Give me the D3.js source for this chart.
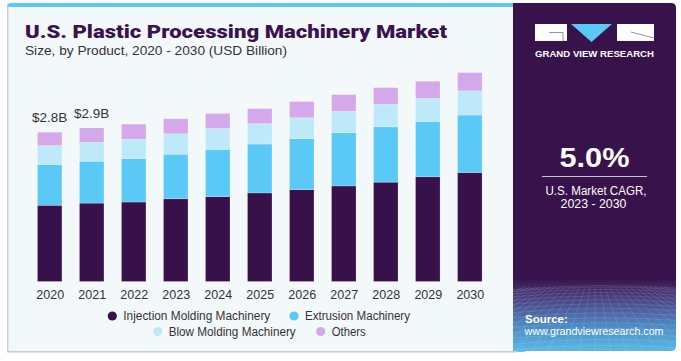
<!DOCTYPE html>
<html><head><meta charset="utf-8">
<script src="https://cdn.jsdelivr.net/npm/d3@7"></script>
<style>html,body{margin:0;padding:0;background:#fff}svg{display:block}</style>
</head><body>
<svg id="c" width="681" height="361"></svg>
<script>
const years = ["2020","2021","2022","2023","2024","2025","2026","2027","2028","2029","2030"];
const injection = [1.42,1.46,1.48,1.54,1.58,1.65,1.71,1.78,1.85,1.95,2.03];
const extrusion = [0.76,0.78,0.81,0.83,0.88,0.91,0.95,0.99,1.03,1.03,1.07];
const blow      = [0.35,0.35,0.36,0.38,0.39,0.38,0.39,0.40,0.42,0.43,0.45];
const others    = [0.25,0.27,0.28,0.28,0.28,0.28,0.30,0.31,0.31,0.32,0.34];
const seriesNames = ["Injection Molding Machinery","Extrusion Machinery","Blow Molding Machinery","Others"];
const seriesColors = ["#38114a","#5bc9f5","#bde9f9","#d4a8eb"];
const valueLabels = [{year:"2020",text:"$2.8B"},{year:"2021",text:"$2.9B"}];

const svg = d3.select("#c");
const font = "'Liberation Sans', Arial, sans-serif";

// card
svg.append("rect").attr("x",7).attr("y",3).attr("width",520).attr("height",349).attr("rx",4).attr("fill","#5bc9f5");
svg.append("rect").attr("x",7).attr("y",7).attr("width",510).attr("height",345).attr("fill","#f3f8fb");
svg.append("rect").attr("x",7).attr("y",7).attr("width",1.5).attr("height",345).attr("fill","#cfd3d6");
svg.append("rect").attr("x",7).attr("y",351).attr("width",510).attr("height",1.5).attr("fill","#c9cccf");

// right panel
const defs = svg.append("defs");
const g1 = defs.append("linearGradient").attr("id","pg").attr("x1",0).attr("y1",0).attr("x2",0).attr("y2",1);
g1.append("stop").attr("offset","0").attr("stop-color","#38124a");
g1.append("stop").attr("offset","0.79").attr("stop-color","#38124a");
g1.append("stop").attr("offset","0.86").attr("stop-color","#4a4a8a");
g1.append("stop").attr("offset","0.93").attr("stop-color","#4d8cc6");
g1.append("stop").attr("offset","1").attr("stop-color","#5ab8e6");
const clip = defs.append("clipPath").attr("id","pc");
clip.append("path").attr("d","M513,3 H671 Q676,3 676,8 V346 Q676,351 671,351 H513 Z");
svg.append("path").attr("d","M513,3 H671 Q676,3 676,8 V346 Q676,351 671,351 H513 Z").attr("fill","url(#pg)");
const grid = svg.append("g").attr("clip-path","url(#pc)").attr("stroke","#ffffff").attr("stroke-opacity",0.2).attr("stroke-width",0.6).attr("fill","none");
d3.range(0,16).forEach(i=>{
  const yy = 287 + Math.pow(i/15,1.4)*66;
  grid.append("path").attr("d",`M513,${yy+3} Q595,${yy-5} 676,${yy+1}`);
});
d3.range(-14,15).forEach(i=>{
  grid.append("line").attr("x1",595+i*5).attr("y1",287).attr("x2",595+i*16).attr("y2",352);
});

// logo
const logo = svg.append("g");
logo.append("rect").attr("x",535).attr("y",24).attr("width",32).attr("height",17).attr("fill","#fff");
logo.append("path").attr("d","M549,32.5 H563 V41").attr("stroke","#9a8fa3").attr("stroke-width",1).attr("fill","none");
logo.append("path").attr("d","M571,24 H612 L591.5,42 Z").attr("fill","#5bc9f5");
logo.append("rect").attr("x",617).attr("y",24).attr("width",37).attr("height",17).attr("fill","#fff");
logo.append("path").attr("d","M631,32 L654,38").attr("stroke","#9a8fa3").attr("stroke-width",1);
svg.append("text").attr("x",594.5).attr("y",57).attr("text-anchor","middle").attr("font-family",font).attr("font-weight","bold")
  .attr("font-size",8.6).attr("fill","#fff").attr("textLength",119).attr("lengthAdjust","spacingAndGlyphs").text("GRAND VIEW RESEARCH");

svg.append("text").attr("x",594.5).attr("y",167).attr("text-anchor","middle").attr("font-family",font).attr("font-weight","bold")
  .attr("font-size",27).attr("fill","#fff").attr("textLength",70).attr("lengthAdjust","spacingAndGlyphs").text("5.0%");
svg.append("line").attr("x1",542).attr("x2",647).attr("y1",176.5).attr("y2",176.5).attr("stroke","#c9c2cf").attr("stroke-width",1);
svg.append("text").attr("x",596).attr("y",195).attr("text-anchor","middle").attr("font-family",font)
  .attr("font-size",12.5).attr("fill","#fff").attr("textLength",101).attr("lengthAdjust","spacingAndGlyphs").text("U.S. Market CAGR,");
svg.append("text").attr("x",593.5).attr("y",208).attr("text-anchor","middle").attr("font-family",font)
  .attr("font-size",12.5).attr("fill","#fff").attr("textLength",66).attr("lengthAdjust","spacingAndGlyphs").text("2023 - 2030");
svg.append("text").attr("x",525).attr("y",322.5).attr("font-family",font).attr("font-weight","bold")
  .attr("font-size",11.5).attr("fill","#fff").text("Source:");
svg.append("text").attr("x",524.5).attr("y",334.5).attr("font-family",font)
  .attr("font-size",11.5).attr("fill","#fff").attr("textLength",139).attr("lengthAdjust","spacingAndGlyphs").text("www.grandviewresearch.com");

// title
svg.append("text").attr("x",25).attr("y",38).attr("font-family","Roboto, 'Liberation Sans', Arial, sans-serif").attr("font-weight","900")
  .attr("font-size",18.5).attr("fill","#3a1250").attr("textLength",422).attr("lengthAdjust","spacingAndGlyphs")
  .text("U.S. Plastic Processing Machinery Market");
svg.append("text").attr("x",25).attr("y",55).attr("font-family",font)
  .attr("font-size",13).attr("fill","#333").attr("textLength",262).attr("lengthAdjust","spacingAndGlyphs")
  .text("Size, by Product, 2020 - 2030 (USD Billion)");

// chart
const x = d3.scalePoint().domain(years).range([49.7,469.8]);
const y = d3.scaleLinear().domain([0,3.5]).range([281.5,281.5-3.5*53.7]);
const bw = 24.5;
const rows = years.map((yr,i)=>({year:yr, s0:injection[i], s1:extrusion[i], s2:blow[i], s3:others[i]}));
const stack = d3.stack().keys(["s0","s1","s2","s3"])(rows);
const bars = svg.append("g");
stack.forEach((layer,k)=>{
  bars.selectAll(null).data(layer).enter().append("rect")
    .attr("x",d=>x(d.data.year)-bw/2).attr("width",bw)
    .attr("y",d=>y(d[1])).attr("height",d=>y(d[0])-y(d[1]))
    .attr("fill",seriesColors[k]).attr("stroke","#ffffff").attr("stroke-opacity",0.35).attr("stroke-width",0.6);
});

const xAxis = svg.append("g").attr("transform","translate(0,281.5)")
  .call(d3.axisBottom(x).tickSize(0).tickPadding(9));
xAxis.select(".domain").remove();
xAxis.selectAll("text").attr("font-family",font).attr("font-size",12.5).attr("fill","#333");

const totals = rows.map(r=>r.s0+r.s1+r.s2+r.s3);
valueLabels.forEach(v=>{
  const i = years.indexOf(v.year);
  svg.append("text").attr("x",x(v.year)).attr("y",y(totals[i])-10).attr("text-anchor","middle")
    .attr("font-family",font).attr("font-size",13.5).attr("fill","#333").text(v.text);
});

// legend
const legendPos = [{cx:112.3,cy:316,tw:147},{cx:294,cy:316,tw:105},{cx:157.7,cy:331.5,tw:127},{cx:320.7,cy:331.5,tw:34}];
seriesNames.forEach((n,k)=>{
  const p = legendPos[k];
  svg.append("circle").attr("cx",p.cx).attr("cy",p.cy).attr("r",4.6).attr("fill",seriesColors[k]);
  svg.append("text").attr("x",p.cx+11).attr("y",p.cy+4.3).attr("font-family",font).attr("font-size",12)
    .attr("fill","#333").attr("textLength",p.tw).attr("lengthAdjust","spacingAndGlyphs").text(n);
});
</script>
</body></html>
